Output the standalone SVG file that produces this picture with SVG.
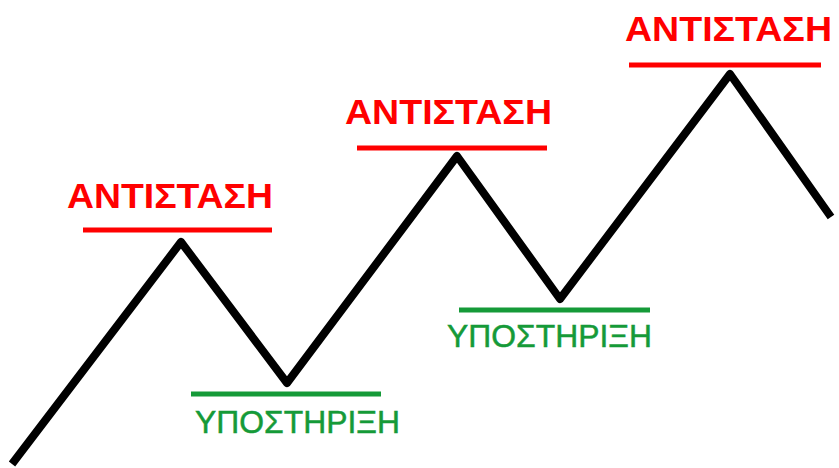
<svg xmlns="http://www.w3.org/2000/svg" width="839" height="468" viewBox="0 0 839 468">
<style>
.res{font-family:"Liberation Sans",Arial,sans-serif;font-weight:bold;font-size:35px;fill:#ff0000}
.sup{font-family:"Liberation Sans",Arial,sans-serif;font-size:32px;fill:#159a38;stroke:#159a38;stroke-width:0.5}
.rl{stroke:#ff0000;stroke-width:5}
.gl{stroke:#159a38;stroke-width:5}
</style>
<rect width="839" height="468" fill="#ffffff"/>
<g id="connectors">
<polyline points="12,464 181,242 287,383 457,156 560,299 730,74 831,217" fill="none" stroke="#000" stroke-width="8" stroke-linejoin="round"/>
</g>
<g id="res1"><line class="rl" x1="83" y1="230" x2="272" y2="230"/><text class="res" x="67" y="208" textLength="206" lengthAdjust="spacingAndGlyphs">ΑΝΤΙΣΤΑΣΗ</text></g>
<g id="res2"><line class="rl" x1="357" y1="148" x2="547" y2="148"/><text class="res" x="345" y="124" textLength="207" lengthAdjust="spacingAndGlyphs">ΑΝΤΙΣΤΑΣΗ</text></g>
<g id="res3"><line class="rl" x1="629" y1="65" x2="821" y2="65"/><text class="res" x="625" y="41" textLength="207" lengthAdjust="spacingAndGlyphs">ΑΝΤΙΣΤΑΣΗ</text></g>
<g id="sup1"><line class="gl" x1="191" y1="394" x2="381" y2="394"/><text class="sup" x="195" y="433" textLength="205" lengthAdjust="spacingAndGlyphs">ΥΠΟΣΤΗΡΙΞΗ</text></g>
<g id="sup2"><line class="gl" x1="459" y1="310" x2="650" y2="310"/><text class="sup" x="447" y="347" textLength="205" lengthAdjust="spacingAndGlyphs">ΥΠΟΣΤΗΡΙΞΗ</text></g>
</svg>
